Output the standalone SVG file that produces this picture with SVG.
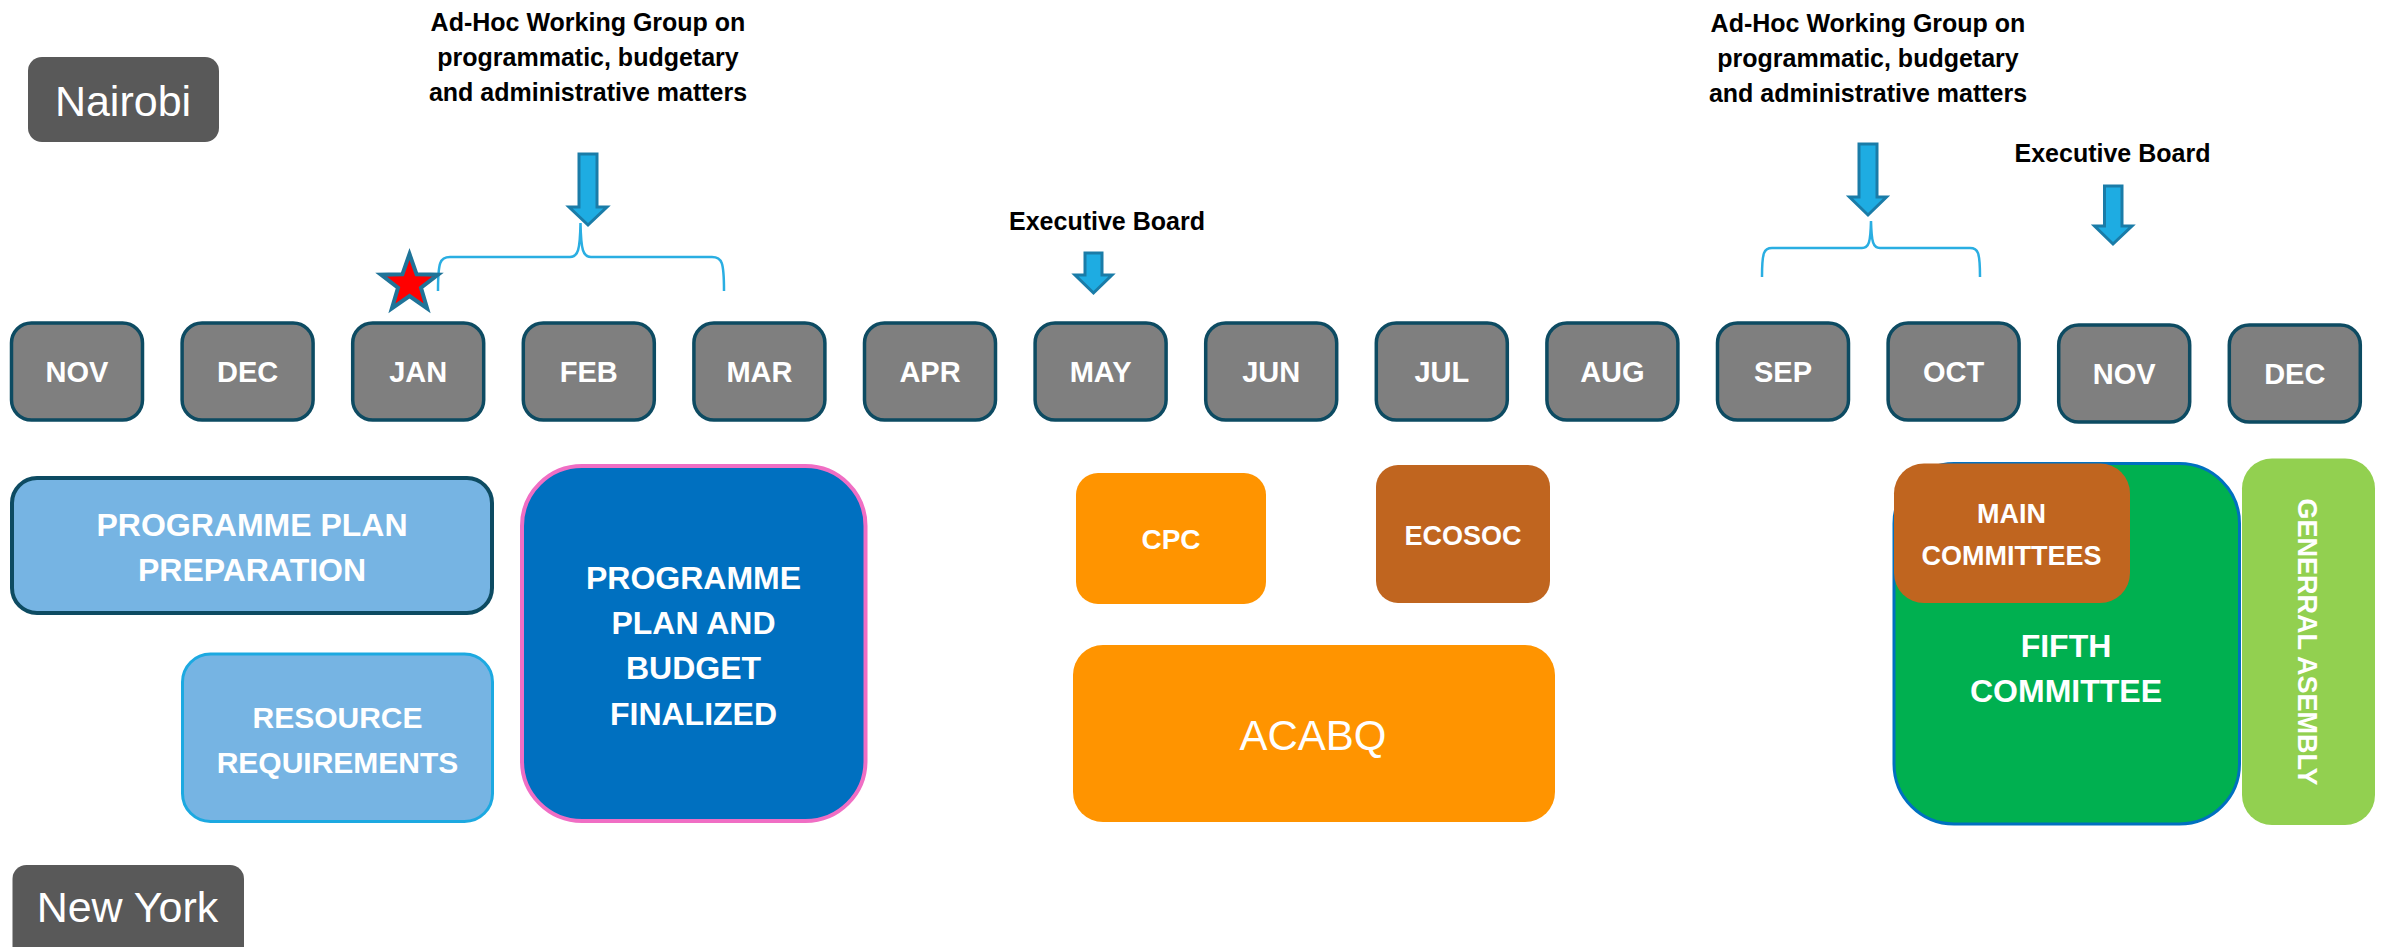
<svg xmlns="http://www.w3.org/2000/svg" width="2387" height="947" viewBox="0 0 2387 947">
<defs>
<style>
.month rect{fill:#7f7f7f;stroke:#0d4b62;stroke-width:3.5}
.month text{font-family:"Liberation Sans",Arial,sans-serif;font-weight:bold;font-size:29px;fill:#fff;text-anchor:middle}
.lbl{font-family:"Liberation Sans",Arial,sans-serif;font-weight:bold;fill:#fff;text-anchor:middle}
.city{font-family:"Liberation Sans",Arial,sans-serif;font-size:43px;fill:#fff;text-anchor:middle}
.note{font-family:"Liberation Sans",Arial,sans-serif;font-weight:bold;font-size:25px;fill:#000;text-anchor:middle}
.arrow{fill:#1eace2;stroke:#1a7ca8;stroke-width:3;stroke-linejoin:miter}
.brace{fill:none;stroke:#2aaee2;stroke-width:2.5}
</style>
</defs>
<rect width="2387" height="947" fill="#fff"/>

<g id="nairobi">
<rect x="28" y="57" width="191" height="85" rx="14" fill="#595959"/>
<text class="city" x="123" y="116">Nairobi</text>
</g>
<g id="newyork">
<rect x="12.5" y="865" width="231.5" height="100" rx="14" fill="#595959"/>
<text class="city" x="127.5" y="922">New York</text>
</g>

<g id="adhoc1">
<text class="note" x="588" y="31">Ad-Hoc Working Group on</text>
<text class="note" x="588" y="66">programmatic, budgetary</text>
<text class="note" x="588" y="101">and administrative matters</text>
</g>
<g id="adhoc2">
<text class="note" x="1868" y="32">Ad-Hoc Working Group on</text>
<text class="note" x="1868" y="67">programmatic, budgetary</text>
<text class="note" x="1868" y="102">and administrative matters</text>
</g>
<g id="exec1"><text class="note" x="1107" y="230">Executive Board</text></g>
<g id="exec2"><text class="note" x="2112.5" y="162">Executive Board</text></g>

<g id="connectors">
<path class="arrow" d="M579,154 H597 V207 H607 L588,225 L569,207 H579 Z"/>
<path class="arrow" d="M1085,253 H1102 V275 H1112 L1093.5,293 L1075,275 H1085 Z"/>
<path class="arrow" d="M1859,144 H1877 V197 H1886.5 L1868,215 L1849.5,197 H1859 Z"/>
<path class="arrow" d="M2104.5,186 H2122 V226 H2132 L2113,244 L2094.5,226 H2104.5 Z"/>
<path class="brace" d="M438,291 C438,262 440,257 450,257 H570 C578,257 580,250 580.5,223 C581,250 583,257 591,257 H712 C722,257 724,262 724,291"/>
<path class="brace" d="M1762,277 C1762,252 1764,248 1772,248 H1862 C1869,248 1870.5,242 1871,221 C1871.5,242 1873,248 1880,248 H1970 C1978,248 1980,252 1980,277"/>
</g>

<g id="star">
<polygon points="409.5,254 416.6,274.3 438,274.7 421,287.7 427.1,308.3 409.5,296 391.9,308.3 398,287.7 381,274.7 402.4,274.3" fill="#ff0000" stroke="#1f7499" stroke-width="4" stroke-linejoin="miter"/>
</g>

<g id="months">
<g class="month" id="m-nov1"><rect x="11.5" y="323" width="131" height="97" rx="20"/><text x="77" y="382">NOV</text></g>
<g class="month" id="m-dec1"><rect x="182.1" y="323" width="131" height="97" rx="20"/><text x="247.6" y="382">DEC</text></g>
<g class="month" id="m-jan"><rect x="352.7" y="323" width="131" height="97" rx="20"/><text x="418.2" y="382">JAN</text></g>
<g class="month" id="m-feb"><rect x="523.3" y="323" width="131" height="97" rx="20"/><text x="588.8" y="382">FEB</text></g>
<g class="month" id="m-mar"><rect x="693.9" y="323" width="131" height="97" rx="20"/><text x="759.4" y="382">MAR</text></g>
<g class="month" id="m-apr"><rect x="864.5" y="323" width="131" height="97" rx="20"/><text x="930" y="382">APR</text></g>
<g class="month" id="m-may"><rect x="1035.1" y="323" width="131" height="97" rx="20"/><text x="1100.6" y="382">MAY</text></g>
<g class="month" id="m-jun"><rect x="1205.7" y="323" width="131" height="97" rx="20"/><text x="1271.2" y="382">JUN</text></g>
<g class="month" id="m-jul"><rect x="1376.3" y="323" width="131" height="97" rx="20"/><text x="1441.8" y="382">JUL</text></g>
<g class="month" id="m-aug"><rect x="1546.9" y="323" width="131" height="97" rx="20"/><text x="1612.4" y="382">AUG</text></g>
<g class="month" id="m-sep"><rect x="1717.5" y="323" width="131" height="97" rx="20"/><text x="1783" y="382">SEP</text></g>
<g class="month" id="m-oct"><rect x="1888.1" y="323" width="131" height="97" rx="20"/><text x="1953.6" y="382">OCT</text></g>
<g class="month" id="m-nov2"><rect x="2058.7" y="325" width="131" height="97" rx="20"/><text x="2124.2" y="384">NOV</text></g>
<g class="month" id="m-dec2"><rect x="2229.3" y="325" width="131" height="97" rx="20"/><text x="2294.8" y="384">DEC</text></g>
</g>

<g id="prog-prep">
<rect x="12" y="478" width="480" height="135" rx="25" fill="#76b4e3" stroke="#0d4b62" stroke-width="4"/>
<text class="lbl" font-size="32" x="252" y="535.5">PROGRAMME PLAN</text>
<text class="lbl" font-size="32" x="252" y="581">PREPARATION</text>
</g>
<g id="resource">
<rect x="182.5" y="654" width="310" height="167.5" rx="28" fill="#76b4e3" stroke="#1ca9e1" stroke-width="3"/>
<text class="lbl" font-size="30" x="337.5" y="727.5">RESOURCE</text>
<text class="lbl" font-size="30" x="337.5" y="773">REQUIREMENTS</text>
</g>
<g id="finalized">
<rect x="522" y="466" width="343.5" height="355" rx="60" fill="#0070c0" stroke="#f06ec4" stroke-width="4"/>
<text class="lbl" font-size="32" x="693.5" y="588.5">PROGRAMME</text>
<text class="lbl" font-size="32" x="693.5" y="634">PLAN AND</text>
<text class="lbl" font-size="32" x="693.5" y="679">BUDGET</text>
<text class="lbl" font-size="32" x="693.5" y="725">FINALIZED</text>
</g>
<g id="cpc">
<rect x="1076" y="473" width="190" height="131" rx="22" fill="#ff9400"/>
<text class="lbl" font-size="28" x="1171" y="549">CPC</text>
</g>
<g id="ecosoc">
<rect x="1376" y="465" width="174" height="138" rx="22" fill="#c0651f"/>
<text class="lbl" font-size="27" x="1463" y="545">ECOSOC</text>
</g>
<g id="acabq">
<rect x="1073" y="645" width="482" height="177" rx="30" fill="#ff9400"/>
<text class="lbl" style="font-weight:normal" font-size="42" x="1313" y="750">ACABQ</text>
</g>
<g id="fifth">
<rect x="1894" y="463.5" width="345.5" height="360.5" rx="60" fill="#00b050" stroke="#0070c0" stroke-width="3"/>
<text class="lbl" font-size="32" x="2066" y="657">FIFTH</text>
<text class="lbl" font-size="32" x="2066" y="702">COMMITTEE</text>
</g>
<g id="main-committees">
<rect x="1894" y="463.5" width="236" height="139.5" rx="30" fill="#c0651f"/>
<text class="lbl" font-size="27" x="2011.6" y="523">MAIN</text>
<text class="lbl" font-size="27" x="2011.6" y="565">COMMITTEES</text>
</g>
<g id="general-assembly">
<rect x="2242" y="458.5" width="133" height="366.5" rx="30" fill="#92d050"/>
<text class="lbl" font-size="27" transform="translate(2298,642) rotate(90)" x="0" y="0">GENERRAL ASEMBLY</text>
</g>
</svg>
